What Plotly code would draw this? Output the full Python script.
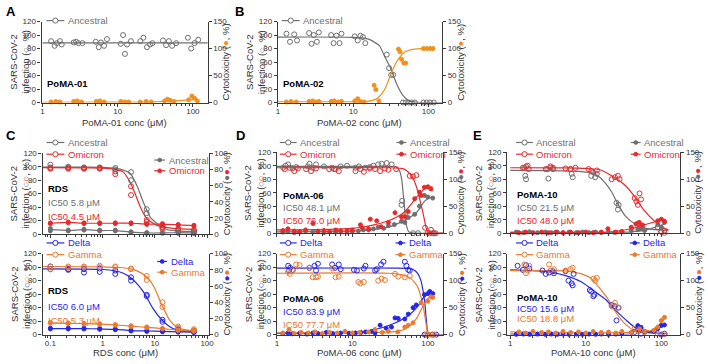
import math
import plotly.graph_objects as go

W, H = 708, 364
GREY = '#6f6f6f'
RED = '#e8292b'
ORANGE = '#f39019'
BLUE = '#2626ea'
GAMMA = '#ea7a2e'
AXC = '#3a3a3a'
TXT = '#333333'
FONT = 'Liberation Sans, Arial, Helvetica, sans-serif'

# ---------------- Panel A (PoMA-01) ----------------
A_inf_x = [1.3, 1.45, 1.55, 1.7, 1.8, 2.6, 2.8, 3.0, 3.4, 5.1, 5.6, 6.0, 6.6, 7.2, 11, 11.8, 12.5, 13.3, 15,
           20, 22, 24.5, 27, 29, 40, 44, 48, 53, 60, 86, 95, 105, 118]
A_inf_y = [91, 84, 88, 91, 86, 89, 90, 88, 88, 90, 82, 89, 84, 94, 87, 100, 72, 86, 91,
           91, 96, 82, 86, 88, 92, 85, 91, 84, 88, 96, 80, 88, 93]
A_fit_x = [1, 160]
A_fit_y = [88.5, 88.5]
A_cyt_x = [1.3, 1.5, 1.7, 2.6, 2.9, 3.3, 5.2, 5.8, 6.6, 11, 12.5, 14, 20, 24, 28, 42, 46, 50, 56, 88, 97, 105, 115]
A_cyt_y = [1, 2, 1, 2, 3, 1, 2, 3, 1, 2, 1, 1, 1, 2, 1, 3, 6, 4, 2, 5, 12, 8, 3]
A_cfit_x = [1, 10, 30, 50, 80, 118]
A_cfit_y = [0.5, 0.6, 1.2, 2.5, 4.5, 6]

# ---------------- Panel B (PoMA-02) ----------------
B_inf_x = [1.3, 1.45, 1.65, 1.8, 2.6, 2.8, 3.0, 3.3, 3.5, 5.1, 5.5, 6.0, 6.6, 7.0, 10.5, 11.5, 12.5, 13.5, 14.5,
           28, 30, 32, 34, 46, 50, 55, 60, 66, 86, 95, 105, 118]
B_inf_y = [102, 90, 101, 92, 103, 87, 100, 90, 104, 100, 88, 99, 88, 102, 98, 92, 99, 97, 88,
           71, 51, 41, 41, 0, 0, 0, 0, 0, 0, 0, 0, 0]
B_fit_x = [1, 10, 16, 22.4, 26, 31.7, 37, 45.5, 56, 70, 160]
B_fit_y = [97, 96.5, 94, 84, 69, 50, 30, 11, 2, 0.3, 0]
B_cyt_x = [1.3, 1.5, 1.75, 2.6, 2.9, 3.2, 3.5, 5.1, 5.6, 6.3, 7.0, 10.5, 11.5, 12.5, 14, 19, 20, 22,
           40, 42, 44, 47, 50, 86, 95, 105, 115]
B_cyt_y = [1, 2, 1, 2, 3, 1, 2, 2, 3, 1, 2, 3, 7, 2, 1, 32, 24, 3, 99, 94, 80, 73, 73, 100, 100, 100, 100]
B_cfit_x = [1, 10, 15, 18, 21, 24, 27, 31.6, 36, 40, 48, 56, 65, 80, 118]
B_cfit_y = [1, 1.2, 2, 4, 8, 16, 28, 52, 70, 81, 93, 97, 99, 100, 100]

# ---------------- Panel C (RDS) ----------------
C_conc = [0.1, 0.22, 0.44, 0.88, 1.75, 3.5, 7, 14, 28, 56]
C_anc_r1 = [103, 100, 99, 99, 98, 92, 37, 13, 7, 4]
C_anc_r2 = [99, 99, 98, 98, 96, 80, 31, 11, 5, 2]
C_omi_r1 = [98, 98, 98, 98, 93, 71, 21, 10, 8, 6]
C_omi_r2 = [97, 97, 97, 97, 89, 58, 18, 8, 6, 5]
C_anc_fit_x = [0.07, 0.5, 1, 1.75, 2.5, 3.4, 4.6, 6.2, 8.2, 11, 17, 30, 56]
C_anc_fit_y = [99.5, 99.3, 99, 97.5, 95, 90, 71, 45, 25, 16, 7, 4.5, 4]
C_omi_fit_x = [0.07, 0.5, 1, 1.75, 2.5, 3.2, 4, 5.3, 7, 11, 22, 56]
C_omi_fit_y = [98.5, 98.3, 98, 96, 92, 80, 64, 40, 23, 13, 8.6, 7]
C_anc_cyt_r1 = [7, 5, 6, 5, 5, 3, 2, 2, 3, 2]
C_anc_cyt_r2 = [4, 4, 5, 4, 4, 2, 1, 1, 1, 1]
C_omi_cyt_r1 = [14, 15, 14, 14, 14, 14, 13, 13, 12, 11]
C_omi_cyt_r2 = [13, 14, 13, 13, 13, 13, 12, 12, 11, 10]

C_del_r1 = [101, 97, 97, 98, 95, 85, 59, 22, 8, 6]
C_del_r2 = [97, 96, 92, 93, 90, 80, 57, 19, 7, 4]
C_gam_r1 = [101, 101, 101, 102, 101, 98, 87, 48, 12, 8]
C_gam_r2 = [97, 99, 100, 100, 100, 97, 81, 41, 10, 6]
C_del_fit_x = [0.07, 0.5, 1, 1.6, 2.5, 3.5, 5, 6.6, 9, 13.5, 19, 26, 40, 60]
C_del_fit_y = [97.5, 97.2, 96.5, 95, 91, 84, 72, 59, 40, 22, 12, 7, 5, 4]
C_gam_fit_x = [0.07, 1, 2, 3.5, 5, 7.1, 9.6, 13.5, 19.5, 27.5, 40, 60]
C_gam_fit_y = [101, 100.5, 99.5, 97.5, 93, 85, 71, 44.5, 20.6, 10, 7, 6]
C_del_cyt_r1 = [8, 8, 8, 7.5, 7, 5.5, 5, 4.5, 4, 3.5]
C_del_cyt_r2 = [7, 7, 7, 6.5, 6, 4.5, 4, 3.5, 3, 2.5]
C_gam_cyt_r1 = [15, 14.5, 14, 13.5, 12.5, 11, 9.5, 8, 6, 5]
C_gam_cyt_r2 = [14, 13.5, 13, 12.5, 11.5, 10, 8.5, 7, 5, 4]

# ---------------- Panel D (PoMA-06) ----------------
D_anc_x = [1.21, 1.3, 1.41, 1.62, 1.8, 2.57, 2.7, 2.98, 3.3, 4.2, 5.4, 6.0, 7.0, 8.5, 11, 12.2, 14.9,
           17, 19, 22, 24.4, 28.5, 33.1, 44.8, 45.7, 50, 63.7, 74, 105, 116, 127]
D_anc_y = [97, 100, 102, 96, 98, 99, 103, 97, 102, 99, 97, 95, 99, 100, 97, 99, 97,
           98, 100, 102, 103, 104, 102, 42, 48, 28, 0, 0, 0, 0, 0]
D_omi_x = [1.27, 1.48, 1.7, 1.9, 2.44, 2.84, 3.3, 4.93, 5.73, 6.6, 11, 12.8, 14.2,
           17, 20, 23.3, 26.9, 30, 38, 57.6, 63.7, 70.3, 92, 100, 110, 121]
D_omi_y = [95, 97, 92, 96, 95, 92, 96, 95, 95, 92, 92, 95, 91,
           96, 95, 92, 96, 94, 95, 85, 84, 86, 8, 1, 5, 0]
D_anc_fit_x = [1, 30, 38, 42, 45, 47, 48.5, 50, 52, 56, 70, 165]
D_anc_fit_y = [99, 99, 98.5, 93, 80, 60, 45, 28, 12, 2, 0, 0]
D_omi_fit_x = [1, 30, 44.6, 52, 60, 67, 74, 80, 87, 93, 98, 105, 165]
D_omi_fit_y = [97, 97, 96, 93, 86, 76, 61, 45, 28, 12, 3, 0.5, 0]
D_omi_cyt_x = [1.2, 1.4, 1.7, 2.0, 2.4, 3.0, 3.5, 4.2, 5, 6, 7, 8.5, 10, 12.8, 13.5, 16.4, 17.3, 21, 24, 30,
               36.7, 44.8, 49.5, 55, 67, 77.6, 81.5, 90, 100, 110]
D_omi_cyt_y = [5, 8, 4, 3, 6, 18, 4, 5, 3, 6, 4, 5, 6, 15.5, 10, 8, 26, 23, 12, 20,
               38, 30, 31, 40, 64, 76, 70, 85, 86, 82]
D_anc_cyt_x = [1.2, 1.4, 1.7, 2.0, 2.4, 3.0, 3.5, 4.2, 5, 6, 7, 8.5, 10, 12, 14, 16.4, 19, 22, 26, 30,
               36, 44.8, 49.5, 55, 67, 77.6, 90, 100, 116]
D_anc_cyt_y = [2, 3, 1, 2, 4, 2, 3, 1, 3, 2, 4, 2, 3, 4, 6, 6, 8, 11, 9, 14,
               16, 22, 20, 29, 35, 50, 70, 67, 65]
D_anc_cfit_x = [1, 5, 10, 20, 30, 44.8, 55, 67, 80, 90, 100, 115]
D_anc_cfit_y = [2.5, 3, 4, 7, 11, 21, 28, 35, 48, 59, 64, 68]
D_omi_cfit_x = [1, 5, 10, 13.5, 20, 30, 44.8, 55, 67, 80, 90, 100, 115]
D_omi_cfit_y = [6, 7, 9, 11, 16, 23, 35, 47, 62, 75, 82, 84, 86]

D_del_x = [1.41, 1.45, 1.5, 1.62, 2.7, 3.15, 3.3, 3.5, 5.4, 5.9, 6.6, 7.0, 10.5, 11.5, 14.2, 14.9,
           20, 21, 24, 25.8, 49.5, 52, 55, 57.6, 90.6, 100, 116, 129]
D_del_y = [102, 95, 99, 96, 99, 102, 95, 105, 104, 99, 104, 97, 96, 95, 98, 102,
           95, 97, 104, 108, 108, 102, 96, 95, 0, 0, 0, 0]
D_gam_x = [1.41, 1.48, 1.62, 1.8, 2.0, 2.7, 2.98, 3.3, 3.5, 5.4, 6.0, 6.6, 12, 12.8, 14.2,
           22, 24.4, 27, 36.7, 40.5, 49.5, 57.6, 95, 100, 110, 121]
D_gam_y = [93, 90, 95, 104, 103, 99, 85, 85, 86, 98, 85, 86, 78, 76, 78,
           80, 83, 81, 90, 86, 85, 87, 0, 0, 0, 0]
D_del_fit_x = [1, 40, 60, 67, 74, 81, 86, 90.6, 94, 97.6, 100, 110, 165]
D_del_fit_y = [98.5, 98.5, 97.5, 95, 90, 80, 66, 50, 30, 10, 2, 0, 0]
D_gam_fit_x = [1, 30, 44.6, 52, 60, 67, 74, 80, 86, 91, 95, 98, 102, 165]
D_gam_fit_y = [91, 91, 89, 86.5, 83, 77, 70, 58, 45, 28, 15, 5, 0.5, 0]
D_del_cyt_x = [1.2, 1.4, 1.6, 2.0, 2.5, 3.0, 3.5, 4.5, 5.5, 7, 9, 11, 13, 15, 18, 20, 23.3, 28, 33,
               36.7, 40.5, 49.5, 55, 63.7, 70.3, 90, 100, 106, 116]
D_del_cyt_y = [2, 3, 1.5, 2.5, 1, 3, 2, 4, 2, 3, 2.5, 3, 4, 5, 6, 3, 17.5, 12, 14,
               31, 30, 29, 38, 50, 55, 74, 76, 80, 76]
D_gam_cyt_x = [1.2, 1.45, 1.7, 2.1, 2.6, 3.2, 4, 5, 6.3, 8, 10, 12.5, 16.4, 20, 25, 30, 40,
               49.5, 55, 63.7, 81.5, 100, 110, 116]
D_gam_cyt_y = [3, 9, 2, 4, 3, 5, 2, 4, 3, 6, 3, 4, 5, 9.5, 4, 6, 5, 14, 17.5, 22, 59, 62, 70, 69]
D_del_cfit_x = [1, 10, 22, 36.7, 55, 74, 90, 110]
D_del_cfit_y = [2.5, 4, 10.8, 21.5, 35, 52.6, 70.5, 76.5]
D_gam_cfit_x = [1, 20, 40, 55, 70, 86, 100, 116]
D_gam_cfit_y = [3.5, 4, 6, 13.7, 29, 52.6, 67.5, 70.5]

# ---------------- Panel E (PoMA-10) ----------------
E_anc_x = [1.54, 1.58, 1.62, 1.7, 3.1, 3.2, 3.4, 3.68, 6.27, 6.5, 6.7, 11.8, 12.6, 13.3, 14,
           25.5, 26.6, 27.2, 48.9, 52.8, 56.4, 100, 110]
E_anc_y = [97, 85, 80, 100, 95, 81, 97, 95, 95, 88, 83, 85, 90, 83, 88, 45, 35, 42, 14, 9, 11, 2, 0.5]
E_omi_x = [1.47, 1.62, 1.75, 2.95, 3.4, 3.68, 5.4, 6.27, 7.3, 10.9, 11.8, 14, 22, 24.3, 26.6, 28,
           44.4, 46.7, 48.9, 51.4, 53.8, 89.5, 100, 110]
E_omi_y = [97, 99, 95, 95, 99, 97, 96, 95, 97, 95, 92, 93, 80, 83, 85, 80, 52, 47, 42, 59, 50, 9, 2, 4]
E_anc_fit_x = [1, 5, 8, 12, 15.3, 18.5, 22, 25.5, 33, 44.4, 65, 120]
E_anc_fit_y = [93, 92.5, 91.5, 89, 83, 73, 61, 47, 26, 14, 6.7, 4]
E_omi_fit_x = [1, 5, 10, 15.3, 22, 33, 44.4, 58, 80, 110, 125]
E_omi_fit_y = [97, 96.8, 96, 94, 85, 71, 54, 35, 18.6, 6.7, 4.5]
E_anc_cyt_x = [1.2, 1.5, 1.8, 2.3, 2.9, 3.5, 4.2, 5, 6, 7.5, 9, 11, 13.5, 16, 20, 24, 30, 40,
               48.9, 53.8, 60, 90, 100, 110]
E_anc_cyt_y = [2, 1, 2.5, 1, 2, 1, 2, 1, 2, 1, 2, 1, 2, 1, 2, 1.5, 3, 5, 6.5, 8, 5, 17, 11, 20]
E_omi_cyt_x = [1.3, 1.6, 2.0, 2.6, 3.2, 4, 5, 6.3, 8, 10, 12.5, 16, 19.6, 25, 30, 40, 46, 51, 56,
               89.5, 100, 110]
E_omi_cyt_y = [1, 2, 1, 2, 1, 2, 1, 2, 1, 2, 1, 2, 8.3, 2, 3, 11, 17, 20, 15, 23, 26, 22]
E_anc_cfit_x = [1, 20, 40, 65, 110]
E_anc_cfit_y = [1.5, 1.7, 2.5, 6.5, 17]
E_omi_cfit_x = [1, 20, 40, 65, 110]
E_omi_cfit_y = [1.5, 2, 8.3, 17, 26]

E_del_x = [1.25, 1.47, 1.62, 1.79, 2.67, 2.95, 3.27, 3.68, 3.79, 5.4, 5.9, 6.5, 6.7, 6.9,
           11.3, 11.8, 12.6, 13, 22, 24.3, 25.5, 27.2, 44.4, 48.9, 51.4, 53.8, 100, 110]
E_del_y = [102, 96, 103, 98, 95, 90, 92, 94, 91, 94, 80, 76, 73, 90,
           66, 64, 57, 59, 44, 42, 21, 40, 4, 9, 6, 1.4, 0, 1.4]
E_gam_x = [1.54, 1.62, 1.7, 1.79, 3.27, 3.4, 3.79, 5.4, 6.27, 6.7, 12.6, 13.3, 14,
           22, 24.3, 26.6, 44.4, 48.9, 59.5, 89.5, 110]
E_gam_y = [104, 91, 95, 102, 104, 95, 97, 95, 97, 99, 83, 80, 84, 42, 47, 40, 8.6, 6.2, 3.8, 1.4, 0.5]
E_del_fit_x = [1, 2, 3.27, 5.4, 8.8, 13.3, 18.5, 24.3, 33, 44.4, 65, 120]
E_del_fit_y = [96, 95, 93, 87.5, 78, 63.6, 51.6, 37, 23, 11, 3.8, 1.4]
E_gam_fit_x = [1, 3, 5.4, 8.8, 11.8, 16, 20, 24.3, 33, 44.4, 65, 120]
E_gam_fit_y = [95, 95, 94.6, 90, 83, 66, 51.6, 35, 16, 6, 2.4, 1]
E_del_cyt_x = [1.2, 1.5, 1.8, 2.3, 2.9, 3.5, 4.2, 5, 6, 7.5, 9, 11, 13.5, 16, 20, 25, 30, 40,
               48.9, 53.8, 60, 80, 89.5, 100, 110]
E_del_cyt_y = [0.5, 1, 0.5, 1, 0.5, 1, 0.5, 1, 0.5, 1, 0.5, 1, 0.5, 1, 0.5, 1, 2, 4,
               16.7, 13.7, 5, 6, 10.8, 16.7, 18]
E_gam_cyt_x = [1.3, 1.6, 2.0, 2.6, 3.2, 4, 5, 6.3, 8, 10, 12.5, 16, 20, 25, 30, 40, 51.4, 60, 80,
               89.5, 100, 110]
E_gam_cyt_y = [5, 3, 6, 4, 5, 3, 6, 4, 5, 3, 6, 4, 5, 3, 6, 4, 10.8, 6, 8, 13.7, 26, 32]
E_del_cfit_x = [1, 40, 50, 70, 100, 110]
E_del_cfit_y = [1, 2, 14, 5, 15, 16]
E_gam_cfit_x = [1, 40, 50, 70, 100, 110]
E_gam_cfit_y = [5, 5, 11, 7, 22, 30]

# ---------------- figure construction ----------------
fig = go.Figure()


def xn(p):
    return 'x' if p == 1 else f'x{p}'


def yn(i):
    return 'y' if i == 1 else f'y{i}'


def key(a, i):
    return f'{a}axis' if i == 1 else f'{a}axis{i}'


def PX(v):
    return v / W


def PY(v):
    return 1 - v / H


def pts(p, x, y, color, open_=True, right=False):
    fig.add_trace(go.Scatter(
        x=x, y=y, mode='markers', xaxis=xn(p), yaxis=yn(2 * p if right else 2 * p - 1),
        marker=dict(symbol='circle-open' if open_ else 'circle', size=5 if open_ else 4,
                    color=color, line=dict(width=1, color=color)),
        cliponaxis=False, showlegend=False, hoverinfo='skip'))


def curve(p, x, y, color, right=False, width=1.2):
    fig.add_trace(go.Scatter(
        x=x, y=y, mode='lines', xaxis=xn(p), yaxis=yn(2 * p if right else 2 * p - 1),
        line=dict(color=color, width=width, shape='spline', smoothing=0.6),
        showlegend=False, hoverinfo='skip'))


def mean2(a, b):
    return [(u + v) / 2 for u, v in zip(a, b)]


# panel geometry: (x px left,right), (y px top,bottom), log x range, right max, x ticks, show x labels
GEO = {
    1: ((40, 208), (18, 101), (-0.013, 2.197), 150, [1, 10, 100], True),
    2: ((279, 445), (18, 101), (0.0, 2.18), 150, [1, 10, 100], True),
    3: ((41, 209), (153, 236), (-1.15, 2.03), 100, [0.1, 1, 10, 100], False),
    4: ((278, 446), (152, 235), (0.0, 2.2), 150, [1, 10, 100], False),
    5: ((511, 686), (152, 235), (-0.04, 2.25), 150, [1, 10, 100], False),
    6: ((41, 209), (256, 339), (-1.15, 2.03), 100, [0.1, 1, 10, 100], True),
    7: ((278, 446), (256, 339), (0.0, 2.2), 150, [1, 10, 100], True),
    8: ((511, 686), (256, 339), (-0.04, 2.25), 150, [1, 10, 100], True),
}

axis_common = dict(showline=True, linecolor=AXC, linewidth=1.2, ticks='outside', ticklen=3,
                   tickwidth=1.1, tickcolor=AXC, showgrid=False, zeroline=False,
                   tickfont=dict(size=8, color=TXT, family=FONT))

layout_axes = {}
for p, (xp, yp, xr, rmax, xt, showx) in GEO.items():
    minor_vals = []
    for d in range(math.floor(xr[0]), math.ceil(xr[1]) + 1):
        for m in range(2, 10):
            v = m * 10 ** d
            if xr[0] <= math.log10(v) <= xr[1]:
                minor_vals.append(v)
    layout_axes[key('x', p)] = dict(
        type='log', domain=[PX(xp[0]), PX(xp[1])], range=list(xr), anchor=yn(2 * p - 1),
        tickvals=xt, ticktext=[('%g' % v) for v in xt], showticklabels=showx, ticklabelstandoff=-2,
        minor=dict(ticks='outside', ticklen=2, tickwidth=0.8, tickcolor=AXC, tickvals=minor_vals, showgrid=False),
        **axis_common)
    layout_axes[key('y', 2 * p - 1)] = dict(
        domain=[PY(yp[1]), PY(yp[0])], range=[0, 120], anchor=xn(p), side='left',
        tickvals=[0, 20, 40, 60, 80, 100, 120], **axis_common)
    rt = [0, 50, 100, 150] if rmax == 150 else [0, 20, 40, 60, 80, 100]
    layout_axes[key('y', 2 * p)] = dict(
        domain=[PY(yp[1]), PY(yp[0])], range=[0, rmax], anchor=xn(p), side='right',
        overlaying=yn(2 * p - 1), tickvals=rt, **axis_common)

# ---- traces ----
# A
curve(1, A_fit_x, A_fit_y, GREY)
pts(1, A_inf_x, A_inf_y, GREY)
curve(1, A_cfit_x, A_cfit_y, ORANGE, right=True)
pts(1, A_cyt_x, A_cyt_y, ORANGE, open_=False, right=True)
# B
curve(2, B_fit_x, B_fit_y, GREY)
pts(2, B_inf_x, B_inf_y, GREY)
curve(2, B_cfit_x, B_cfit_y, ORANGE, right=True)
pts(2, B_cyt_x, B_cyt_y, ORANGE, open_=False, right=True)
# C top
curve(3, C_conc, mean2(C_anc_cyt_r1, C_anc_cyt_r2), GREY, right=True)
curve(3, C_conc, mean2(C_omi_cyt_r1, C_omi_cyt_r2), RED, right=True)
pts(3, C_conc + C_conc, C_anc_cyt_r1 + C_anc_cyt_r2, GREY, open_=False, right=True)
pts(3, C_conc + C_conc, C_omi_cyt_r1 + C_omi_cyt_r2, RED, open_=False, right=True)
curve(3, C_anc_fit_x, C_anc_fit_y, GREY)
curve(3, C_omi_fit_x, C_omi_fit_y, RED)
pts(3, C_conc + C_conc, C_anc_r1 + C_anc_r2, GREY)
pts(3, C_conc + C_conc, C_omi_r1 + C_omi_r2, RED)
# C bottom
curve(6, C_conc, mean2(C_del_cyt_r1, C_del_cyt_r2), BLUE, right=True)
curve(6, C_conc, mean2(C_gam_cyt_r1, C_gam_cyt_r2), GAMMA, right=True)
pts(6, C_conc + C_conc, C_del_cyt_r1 + C_del_cyt_r2, BLUE, open_=False, right=True)
pts(6, C_conc + C_conc, C_gam_cyt_r1 + C_gam_cyt_r2, GAMMA, open_=False, right=True)
curve(6, C_del_fit_x, C_del_fit_y, BLUE)
curve(6, C_gam_fit_x, C_gam_fit_y, GAMMA)
pts(6, C_conc + C_conc, C_del_r1 + C_del_r2, BLUE)
pts(6, C_conc + C_conc, C_gam_r1 + C_gam_r2, GAMMA)
# D top
curve(4, D_anc_cfit_x, D_anc_cfit_y, GREY, right=True)
curve(4, D_omi_cfit_x, D_omi_cfit_y, RED, right=True)
pts(4, D_anc_cyt_x, D_anc_cyt_y, GREY, open_=False, right=True)
pts(4, D_omi_cyt_x, D_omi_cyt_y, RED, open_=False, right=True)
curve(4, D_anc_fit_x, D_anc_fit_y, GREY)
curve(4, D_omi_fit_x, D_omi_fit_y, RED)
pts(4, D_anc_x, D_anc_y, GREY)
pts(4, D_omi_x, D_omi_y, RED)
# D bottom
curve(7, D_del_cfit_x, D_del_cfit_y, BLUE, right=True)
curve(7, D_gam_cfit_x, D_gam_cfit_y, GAMMA, right=True)
pts(7, D_del_cyt_x, D_del_cyt_y, BLUE, open_=False, right=True)
pts(7, D_gam_cyt_x, D_gam_cyt_y, GAMMA, open_=False, right=True)
curve(7, D_del_fit_x, D_del_fit_y, BLUE)
curve(7, D_gam_fit_x, D_gam_fit_y, GAMMA)
pts(7, D_del_x, D_del_y, BLUE)
pts(7, D_gam_x, D_gam_y, GAMMA)
# E top
curve(5, E_anc_cfit_x, E_anc_cfit_y, GREY, right=True)
curve(5, E_omi_cfit_x, E_omi_cfit_y, RED, right=True)
pts(5, E_anc_cyt_x, E_anc_cyt_y, GREY, open_=False, right=True)
pts(5, E_omi_cyt_x, E_omi_cyt_y, RED, open_=False, right=True)
curve(5, E_anc_fit_x, E_anc_fit_y, GREY)
curve(5, E_omi_fit_x, E_omi_fit_y, RED)
pts(5, E_anc_x, E_anc_y, GREY)
pts(5, E_omi_x, E_omi_y, RED)
# E bottom
curve(8, E_del_cfit_x, E_del_cfit_y, BLUE, right=True)
curve(8, E_gam_cfit_x, E_gam_cfit_y, GAMMA, right=True)
pts(8, E_del_cyt_x, E_del_cyt_y, BLUE, open_=False, right=True)
pts(8, E_gam_cyt_x, E_gam_cyt_y, GAMMA, open_=False, right=True)
curve(8, E_del_fit_x, E_del_fit_y, BLUE)
curve(8, E_gam_fit_x, E_gam_fit_y, GAMMA)
pts(8, E_del_x, E_del_y, BLUE)
pts(8, E_gam_x, E_gam_y, GAMMA)

# ---- annotations & legend glyphs ----
annotations = []
shapes = []


def ann(text, x, y, size=9.5, color=TXT, xanchor='left', yanchor='middle', angle=0, bold=False):
    if bold:
        text = f'<b>{text}</b>'
    annotations.append(dict(text=text, x=PX(x), y=PY(y), xref='paper', yref='paper', showarrow=False,
                            xanchor=xanchor, yanchor=yanchor, textangle=angle, borderpad=0,
                            font=dict(size=size, color=color, family=FONT)))


def glyph(x0, x1, y, color, open_=True):
    shapes.append(dict(type='line', xref='paper', yref='paper', x0=PX(x0), x1=PX(x1), y0=PY(y), y1=PY(y),
                       line=dict(color=color, width=1.2)))
    cx = (x0 + x1) / 2
    r = 2.6 if open_ else 1.9
    shapes.append(dict(type='circle', xref='paper', yref='paper', x0=PX(cx - r), x1=PX(cx + r),
                       y0=PY(y + r), y1=PY(y - r), fillcolor='white' if open_ else color,
                       line=dict(color=color, width=1)))


def legend(x0, x1, y, name, color, open_=True):
    glyph(x0, x1, y, color, open_)
    ann(name, x1 + 2.5, y, size=9.5, color=color)


def sym(c, s):
    return f'<span style="color:{c}">{s}</span>'


OC = '○'
FC = '●'

# panel letters
for L, x, y in [('A', 3, 8), ('B', 235, 8), ('C', 3, 135), ('D', 236, 135), ('E', 475, 135)]:
    ann(L, x, y, size=13, color='#000000', bold=True)

# axis titles
for p, (xp, yp, xr, rmax, xt, showx) in GEO.items():
    cy = (yp[0] + yp[1]) / 2
    if p in (1, 2):
        lsym = sym(GREY, OC)
        rsym = sym(ORANGE, FC)
    elif p in (3, 4, 5):
        lsym = sym(GREY, OC) + sym(RED, OC)
        rsym = sym(GREY, FC) + sym(RED, FC)
    else:
        lsym = sym(BLUE, OC) + sym(GAMMA, OC)
        rsym = sym(BLUE, FC) + sym(GAMMA, FC)
    ann(f'SARS-CoV-2<br>infection ({lsym}, %)', xp[0] - 23, cy, size=9.5, xanchor='center', angle=-90)
    ann(f'Cytotoxicity ({rsym}, %)', xp[1] + 18, cy, size=9.5, xanchor='center', angle=-90)

ann('PoMA-01 conc (μM)', 124, 121, size=9.5, xanchor='center')
ann('PoMA-02 conc (μM)', 362, 121, size=9.5, xanchor='center')
ann('RDS conc (μM)', 125, 357.5, size=9.5, xanchor='center')
ann('PoMA-06 conc (μM)', 362, 357.5, size=9.5, xanchor='center')
ann('PoMA-10 conc (μM)', 598, 357.5, size=9.5, xanchor='center')

# legends
legend(45, 63, 17, 'Ancestral', GREY)
legend(283, 301, 17, 'Ancestral', GREY)
legend(45, 63, 142, 'Ancestral', GREY)
legend(45, 63, 154, 'Omicron', RED)
legend(154, 165, 160, 'Ancestral', GREY, open_=False)
legend(154, 165, 171, 'Omicron', RED, open_=False)
legend(45, 63, 245, 'Delta', BLUE)
legend(45, 63, 257, 'Gamma', GAMMA)
legend(157, 167, 264, 'Delta', BLUE, open_=False)
legend(157, 167, 275, 'Gamma', GAMMA, open_=False)
legend(281, 298, 142, 'Ancestral', GREY)
legend(281, 298, 154, 'Omicron', RED)
legend(399, 409, 142, 'Ancestral', GREY, open_=False)
legend(399, 409, 154, 'Omicron', RED, open_=False)
legend(281, 298, 245, 'Delta', BLUE)
legend(281, 298, 257, 'Gamma', GAMMA)
legend(398, 408, 245, 'Delta', BLUE, open_=False)
legend(398, 408, 257, 'Gamma', GAMMA, open_=False)
legend(520, 537, 142, 'Ancestral', GREY)
legend(520, 537, 154, 'Omicron', RED)
legend(636, 646, 142, 'Ancestral', GREY, open_=False)
legend(636, 646, 154, 'Omicron', RED, open_=False)
legend(520, 537, 245, 'Delta', BLUE)
legend(520, 537, 257, 'Gamma', GAMMA)
legend(635, 645, 245, 'Delta', BLUE, open_=False)
legend(635, 645, 257, 'Gamma', GAMMA, open_=False)

# in-plot labels
ann('PoMA-01', 45, 82, size=9.5, color='#000000', bold=True)
ann('PoMA-02', 283, 82, size=9.5, color='#000000', bold=True)
ann('RDS', 46, 189, size=9.5, color='#000000', bold=True)
ann('IC50 5.8 μM', 46, 204, size=9.5, color=GREY)
ann('IC50 4.5 μM', 46, 218, size=9.5, color=RED)
ann('RDS', 46, 294, size=9.5, color='#000000', bold=True)
ann('IC50 6.0 μM', 46, 310, size=9.5, color=BLUE)
ann('IC50 5.3 μM', 46, 325, size=9.5, color=GAMMA)
ann('PoMA-06', 283, 196, size=9.5, color='#000000', bold=True)
ann('IC50 48.1 μM', 283, 208.5, size=9.5, color=GREY)
ann('IC50 76.0 μM', 283, 222, size=9.5, color=RED)
ann('PoMA-06', 283, 302, size=9.5, color='#000000', bold=True)
ann('IC50 83.9 μM', 283, 315, size=9.5, color=BLUE)
ann('IC50 77.7 μM', 283, 329, size=9.5, color=GAMMA)
ann('PoMA-10', 520, 195, size=9.5, color='#000000', bold=True)
ann('IC50 21.5 μM', 520, 208.5, size=9.5, color=GREY)
ann('IC50 48.0 μM', 520, 222, size=9.5, color=RED)
ann('PoMA-10', 520, 301, size=9.5, color='#000000', bold=True)
ann('IC50 15.6 μM', 520, 312, size=9.5, color=BLUE)
ann('IC50 18.8 μM', 520, 322.5, size=9.5, color=GAMMA)

fig.update_layout(
    width=W, height=H, margin=dict(l=0, r=0, t=0, b=0, pad=0),
    paper_bgcolor='white', plot_bgcolor='rgba(0,0,0,0)', showlegend=False,
    font=dict(family=FONT, color=TXT, size=9),
    annotations=annotations, shapes=shapes, **layout_axes)

fig.write_html('out.html')
